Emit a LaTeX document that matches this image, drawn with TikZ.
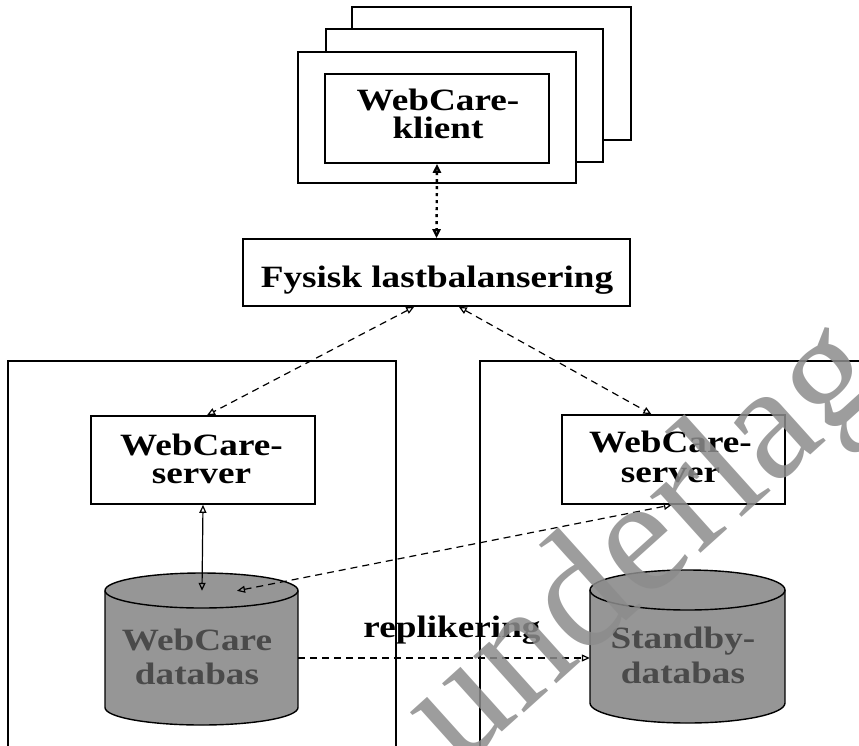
\documentclass[tikz,border=0pt]{standalone}
\usepackage{fontspec}
\setmainfont{Liberation Serif}[FakeStretch=1.2]
\newfontfamily\wmfont{Liberation Serif}
\usetikzlibrary{arrows.meta,calc}
\definecolor{dbgray}{HTML}{969696}
\definecolor{dbtext}{HTML}{4A4A4A}
\definecolor{wmgray}{HTML}{8C8C8C}
\tikzset{
  boxframe/.style={draw=black, line width=1.6pt, fill=white, inner sep=0pt},
  lbl/.style={font=\bfseries\fontsize{31}{31}\selectfont, inner sep=0pt, anchor=base},
  dblbl/.style={lbl, text=dbtext},
  dashconn/.style={line width=1.2pt, dash pattern=on 7pt off 5pt, {Triangle[open,length=8pt,width=7pt]}-{Triangle[open,length=8pt,width=7pt]}},
  dotconn/.style={line width=2.4pt, dash pattern=on 3pt off 4pt, {Triangle[open,length=9pt,width=8pt]}-{Triangle[open,length=9pt,width=8pt]}},
  solidconn/.style={line width=1.2pt, {Triangle[open,length=8pt,width=7pt]}-{Triangle[open,length=8pt,width=7pt]}},
  wm/.style={font=\wmfont\fontsize{165}{165}\selectfont, text=wmgray, opacity=0.85, inner sep=0pt}
}
\begin{document}
\begin{tikzpicture}[x=1pt,y=-1pt]
\useasboundingbox (0,0) rectangle (859,745);
\begin{scope}
\clip (0,0) rectangle (859,745);
% containers
\draw[line width=1.6pt] (8,760) -- (8,361) -- (396,361) -- (396,760);
\draw[line width=1.6pt] (480,760) -- (480,361) -- (870,361);
% stacked client frames
\node[boxframe, minimum width=279pt, minimum height=133pt] (stack3) at (491.5,73.5) {};
\node[boxframe, minimum width=277pt, minimum height=133pt] (stack2) at (464.5,95.5) {};
\node[boxframe, minimum width=278pt, minimum height=131pt] (stack1) at (437,117.5) {};
\node[boxframe, minimum width=224pt, minimum height=89pt] (klientbox) at (437,118.5) {};
% load balancer
\node[boxframe, minimum width=387pt, minimum height=67pt] (fysisk) at (436.5,272.5) {};
% servers
\node[boxframe, minimum width=224pt, minimum height=88pt] (lserver) at (203,460) {};
\node[boxframe, minimum width=223pt, minimum height=89pt] (rserver) at (673.5,459.5) {};
% databases (cylinders)
\node[inner sep=0pt, minimum width=193pt, minimum height=152pt] (ldb) at (201.5,649) {};
\node[inner sep=0pt, minimum width=195pt, minimum height=153pt] (rdb) at (687.5,646.5) {};
% left cylinder
\fill[dbgray] (105,590.5) rectangle (298,707.5);
\fill[dbgray] (201.5,707.5) ellipse [x radius=96.5, y radius=17.5];
\draw[line width=1.4pt] (105,590.5) -- (105,707.5) arc[start angle=180, end angle=0, x radius=96.5, y radius=17.5] -- (298,590.5);
\draw[line width=1.4pt, fill=dbgray] (201.5,590.5) ellipse [x radius=96.5, y radius=17.5];
% right cylinder
\fill[dbgray] (590,590) rectangle (785,703);
\fill[dbgray] (687.5,703) ellipse [x radius=97.5, y radius=20];
\draw[line width=1.4pt] (590,590) -- (590,703) arc[start angle=180, end angle=0, x radius=97.5, y radius=20] -- (785,590);
\draw[line width=1.4pt, fill=dbgray] (687.5,590) ellipse [x radius=97.5, y radius=20];
% labels
\node[lbl] (klient1) at (438,110) {WebCare-};
\node[lbl] (klient2) at (438,138) {klient};
\node[lbl] (fysisktext) at (437,287) {Fysisk lastbalansering};
\node[lbl] (lserver1) at (201.5,455) {WebCare-};
\node[lbl] (lserver2) at (201.5,483) {server};
\node[lbl] (rserver1) at (670.5,452) {WebCare-};
\node[lbl] (rserver2) at (670.5,482) {server};
\node[dblbl] (ldb1) at (197,650) {WebCare};
\node[dblbl] (ldb2) at (197,684) {databas};
\node[dblbl] (rdb1) at (683,648) {Standby-};
\node[dblbl] (rdb2) at (683,683) {databas};
\node[lbl] (repl) at (452,637) {replikering};
% connectors
\draw[dotconn] (klientbox.south) -- (fysisk.north);
\draw[dashconn] (fysisk.237) -- ($(lserver.north)+(4,0)$);
\draw[dashconn] (fysisk.303) -- (rserver.116);
\draw[solidconn] (lserver.south) -- ($(ldb.north)+(0.5,18)$);
\draw[dashconn] ($(ldb.north)+(35.5,18)$) -- (rserver.268);
\draw[line width=1.2pt, dash pattern=on 7pt off 5pt, -{Triangle[open,length=8pt,width=7pt]}] ($(ldb.east)+(0,9)$) -- ($(rdb.west)+(0,11.5)$);
% watermark
\node[wm, rotate=42] (wmark) at (648,548) {underlag};
\end{scope}
\end{tikzpicture}
\end{document}
